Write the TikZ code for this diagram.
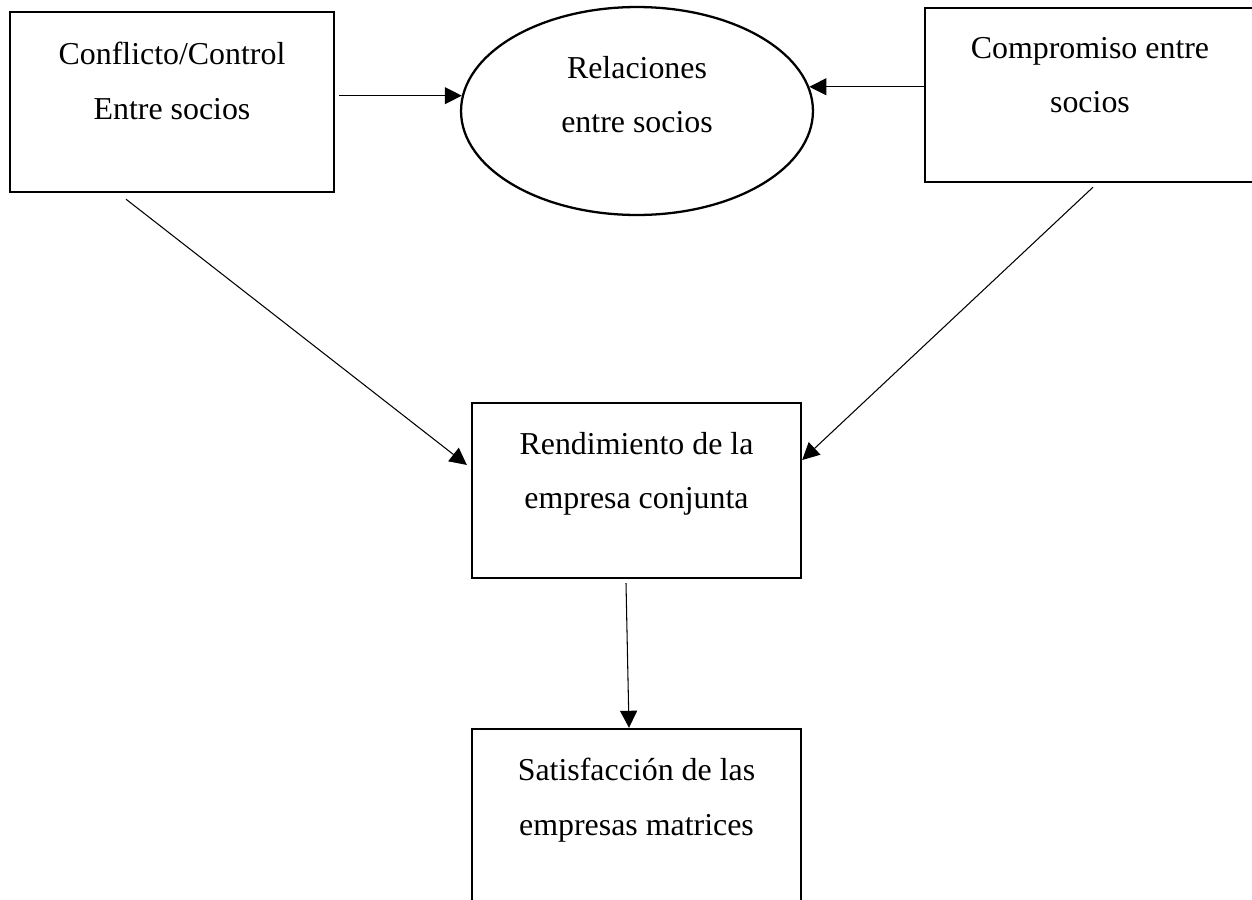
\documentclass[tikz,border=0pt]{standalone}
\usepackage{fontspec}
\setmainfont{Liberation Serif}
\usepackage{xcolor}
\usepackage{tikz}
\usetikzlibrary{positioning,shapes.geometric,arrows.meta}

\begin{document}
\begin{tikzpicture}[x=0.02cm,y=-0.02cm]
			\tikzstyle{box} = [draw, line width=1.4pt, inner sep=0pt]
			\tikzstyle{oval} = [ellipse, draw, line width=1.3pt, inner sep=0pt, minimum width=7.04cm, minimum height=4.16cm]
			\tikzstyle{txt} = [align=center, inner sep=0pt, font=\fontsize{18.15pt}{31pt}\selectfont]
			\tikzset{edge/.style = {line width=0.6pt, -{Triangle[length=0.34cm, width=0.34cm]}}}
			
			\useasboundingbox (0,0) rectangle (1252,900);
			
			\node[box, minimum width=6.48cm, minimum height=3.6cm](conflicto) at (172,102) {};
			\node[oval](relaciones) at (637,111) {};
			\node[box, minimum width=6.6cm, minimum height=3.48cm](compromiso) at (1090,95) {};
			\node[box, minimum width=6.58cm, minimum height=3.5cm](rendimiento) at (636.5,490.5) {};
			\node[box, minimum width=6.58cm, minimum height=3.8cm](satisfaccion) at (636.5,824) {};
			
			\node[txt, below=0.62cm of conflicto.north](conflictotxt) {Conflicto/Control\\Entre socios};
			\node[txt, below=1cm of relaciones.north](relacionestxt) {Relaciones\\entre socios};
			\node[txt, below=0.6cm of compromiso.north](compromisotxt) {Compromiso entre\\socios};
			\node[txt, below=0.6cm of rendimiento.north](rendimientotxt) {Rendimiento de la\\empresa conjunta};
			\node[txt, below=0.6cm of satisfaccion.north](satisfacciontxt) {Satisfacción de las\\empresas matrices};
			
			\draw[edge, shorten <=0.08cm](conflicto.east |- relaciones.175) to (relaciones.175);
			\draw[edge](compromiso.west |- relaciones.8) to (relaciones.8);
			\draw[edge, shorten >=0.1cm]([xshift=-0.92cm, yshift=-0.12cm]conflicto.south) to ([yshift=0.45cm]rendimiento.west);
			\draw[edge]([xshift=0.06cm, yshift=-0.08cm]compromiso.south) to ([yshift=0.61cm]rendimiento.east);
			\draw[edge]([xshift=-0.21cm, yshift=-0.08cm]rendimiento.south) to ([xshift=-0.15cm]satisfaccion.north);
			
\end{tikzpicture}
\end{document}
